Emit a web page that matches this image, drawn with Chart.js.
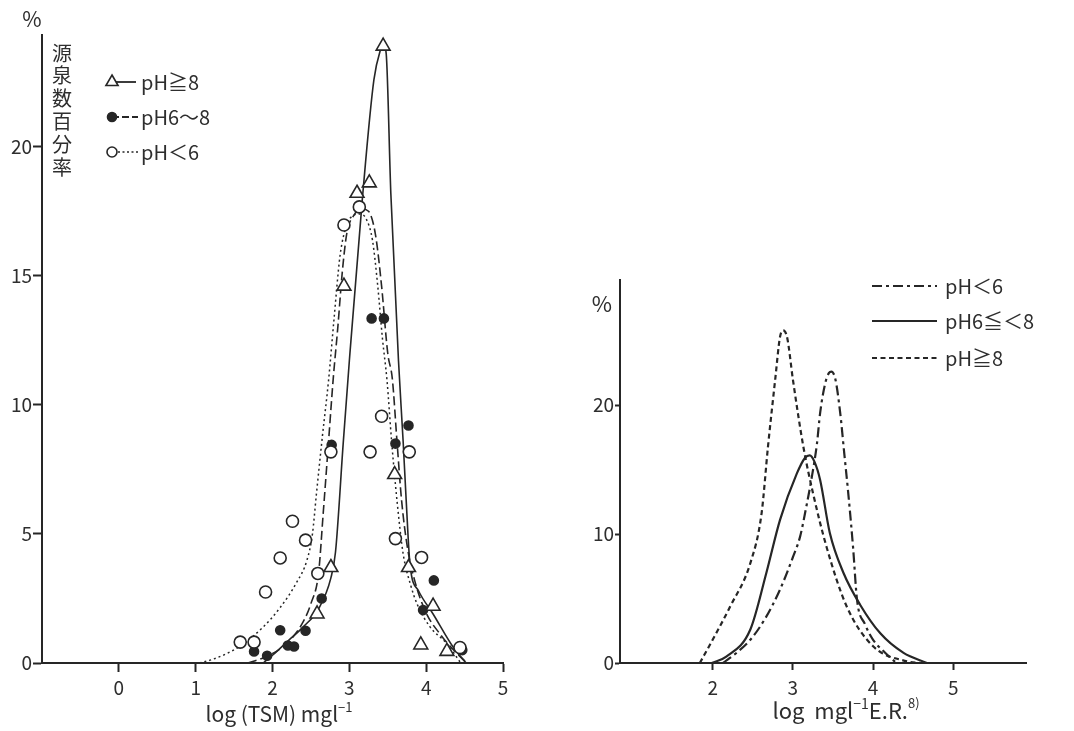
<!DOCTYPE html>
<html>
<head>
<meta charset="utf-8">
<script src="https://cdn.jsdelivr.net/npm/chart.js@4.4.0/dist/chart.umd.min.js"></script>
<style>
    html, body { margin: 0; padding: 0; background: #fff; }
    #wrap { position: relative; width: 1074px; height: 731px; overflow: hidden; background: #fff; }
    canvas { position: absolute; top: 0; }
    #leftChart { left: 0; width: 540px; height: 731px; }
    #rightChart { left: 540px; width: 534px; height: 731px; }
</style>
</head>
<body>
<div id="wrap">
    <canvas id="leftChart" width="540" height="731"></canvas>
    <canvas id="rightChart" width="534" height="731"></canvas>
</div>
<script>
/* ===============================
   データ
   =============================== */

// 左図：目盛
const leftXTicks = [0, 1, 2, 3, 4, 5];
const leftYTicks = [0, 5, 10, 15, 20];

// 左図：観測点  pH≧8（△）
const triX = [3.44, 3.10, 3.26, 2.93, 3.59, 2.76, 2.58, 3.77, 4.09, 3.93, 4.27];
const triY = [23.9, 18.2, 18.6, 14.6, 7.3, 3.7, 1.9, 3.7, 2.2, 0.7, 0.45];

// 左図：観測点  pH6～8（●）
const dotX = [3.29, 3.45, 3.77, 3.60, 2.77, 4.10, 2.64, 2.10, 2.43, 1.76, 1.93, 2.20, 2.28, 3.96, 4.47];
const dotY = [13.35, 13.35, 9.2, 8.5, 8.45, 3.2, 2.5, 1.27, 1.25, 0.45, 0.28, 0.68, 0.64, 2.05, 0.5];

// 左図：観測点  pH<6（○）
const circX = [3.13, 2.93, 3.42, 2.76, 3.27, 3.78, 2.26, 2.43, 2.10, 2.59, 1.91, 1.58, 1.76, 3.60, 3.94, 4.44];
const circY = [17.67, 16.97, 9.56, 8.18, 8.18, 8.18, 5.49, 4.76, 4.07, 3.47, 2.75, 0.81, 0.81, 4.82, 4.09, 0.6];

// 左図：あてはめ曲線  pH≧8（実線）
const fitHiX = [1.88, 2.0, 2.2, 2.4, 2.6, 2.76, 2.82, 2.92, 3.0, 3.17, 3.32, 3.41, 3.44, 3.48, 3.54, 3.64, 3.70, 3.74, 3.79, 3.9, 4.09, 4.35, 4.52];
const fitHiY = [0, 0.3, 0.85, 1.4, 2.1, 3.3, 4.3, 8.5, 11.7, 18.0, 22.6, 23.8, 24.0, 23.6, 18.2, 11.7, 8.6, 6.3, 3.8, 2.8, 1.9, 0.62, 0];

// 左図：あてはめ曲線  pH6～8（破線）
const fitMidX = [1.68, 1.9, 2.1, 2.25, 2.4, 2.5, 2.6, 2.66, 2.73, 2.79, 2.85, 2.91, 2.97, 3.05, 3.15, 3.25, 3.34, 3.42, 3.5, 3.56, 3.62, 3.68, 3.76, 3.85, 3.99, 4.2, 4.4, 4.53];
const fitMidY = [0, 0.22, 0.55, 0.95, 1.6, 2.3, 3.5, 5.8, 8.6, 11.0, 13.0, 15.2, 16.7, 17.3, 17.6, 17.5, 16.6, 14.6, 12.0, 11.0, 8.6, 6.3, 4.4, 3.2, 2.0, 1.05, 0.37, 0];

// 左図：あてはめ曲線  pH<6（点線）
const fitLowX = [1.05, 1.2, 1.4, 1.6, 1.88, 2.1, 2.31, 2.45, 2.52, 2.57, 2.65, 2.73, 2.8, 2.88, 2.97, 3.06, 3.14, 3.22, 3.3, 3.37, 3.43, 3.49, 3.55, 3.62, 3.7, 3.8, 3.88, 4.05, 4.27, 4.45];
const fitLowY = [0, 0.12, 0.36, 0.7, 1.4, 2.15, 3.1, 4.0, 5.0, 6.5, 8.8, 10.96, 13.3, 15.8, 17.0, 17.35, 17.4, 17.2, 16.4, 14.6, 12.6, 10.96, 8.6, 6.3, 4.24, 3.0, 2.3, 1.4, 0.75, 0];

// 右図：目盛
const rightXTicks = [2, 3, 4, 5];
const rightYTicks = [0, 10, 20];

// 右図：pH<6（一点鎖線）
const rLowX = [2.13, 2.3, 2.47, 2.65, 2.84, 3.0, 3.09, 3.17, 3.23, 3.3, 3.34, 3.4, 3.45, 3.48, 3.53, 3.59, 3.64, 3.69, 3.75, 3.8, 3.9, 4.0, 4.15, 4.29];
const rLowY = [0, 0.8, 1.8, 3.4, 5.7, 8.2, 9.8, 12.2, 14.2, 17.0, 19.4, 21.6, 22.5, 22.6, 22.0, 19.4, 16.3, 13.2, 9.0, 4.9, 3.0, 1.8, 0.8, 0];

// 右図：pH6≦<8（実線）
const rMidX = [1.99, 2.17, 2.47, 2.67, 2.84, 3.05, 3.15, 3.21, 3.27, 3.34, 3.46, 3.63, 3.84, 4.09, 4.38, 4.67];
const rMidY = [0, 0.5, 2.6, 7.0, 11.1, 14.7, 15.9, 16.1, 15.6, 14.2, 10.1, 7.0, 4.5, 2.3, 0.78, 0];

// 右図：pH≧8（破線）
const rHiX = [1.84, 2.0, 2.22, 2.47, 2.61, 2.69, 2.78, 2.84, 2.88, 2.93, 3.0, 3.13, 3.25, 3.42, 3.67, 4.0, 4.42, 4.6];
const rHiY = [0, 1.8, 4.4, 7.75, 11.6, 16.8, 22.0, 25.3, 25.8, 25.2, 22.0, 16.8, 13.2, 9.0, 4.4, 1.3, 0.13, 0];


/* ===============================
   共通の見た目
   =============================== */
const INK = "#262626";
const TEXT = "#2e2e2e";
const FONT = '"Noto Sans CJK JP", "Noto Sans", "DejaVu Sans", sans-serif';

const toXY = (xs, ys) => xs.map((x, i) => ({ x: x, y: ys[i] }));


/* ===============================
   文字・凡例を描くプラグイン
   =============================== */
const overlayText = {
    id: "overlayText",
    afterDraw(chart, args, opts) {
        const ctx = chart.ctx;
        ctx.save();
        ctx.fillStyle = TEXT;
        ctx.textBaseline = "middle";

        (opts.items || []).forEach(t => {
            ctx.font = `${t.size}px ${FONT}`;
            ctx.textAlign = t.align || "center";
            ctx.fillText(t.text, t.x, t.y);
        });

        // 上付き文字を含む軸名（部分ごとに描く）
        (opts.titles || []).forEach(t => {
            ctx.textAlign = "left";
            const widths = t.parts.map(p => {
                ctx.font = `${p.size}px ${FONT}`;
                return ctx.measureText(p.text).width;
            });
            const total = widths.reduce((a, b) => a + b, 0);
            let x = t.x - total / 2;
            t.parts.forEach((p, i) => {
                ctx.font = `${p.size}px ${FONT}`;
                ctx.fillText(p.text, x, t.y + (p.dy || 0));
                x += widths[i];
            });
        });

        // 縦書きの軸名
        if (opts.vertical) {
            const v = opts.vertical;
            ctx.font = `${v.size}px ${FONT}`;
            ctx.textAlign = "center";
            Array.from(v.text).forEach((ch, i) => {
                ctx.fillText(ch, v.x, v.y0 + i * v.step);
            });
        }

        // 凡例
        (opts.legend || []).forEach(row => {
            ctx.strokeStyle = INK;
            ctx.lineWidth = row.lw;
            ctx.setLineDash(row.dash);
            ctx.beginPath();
            ctx.moveTo(row.x0, row.y);
            ctx.lineTo(row.x1, row.y);
            ctx.stroke();
            ctx.setLineDash([]);

            if (row.marker) drawMarker(ctx, row.marker, row.mx, row.y);

            ctx.fillStyle = TEXT;
            ctx.font = `${row.size}px ${FONT}`;
            ctx.textAlign = "left";
            ctx.fillText(row.text, row.tx, row.y);
        });

        ctx.restore();
    }
};

function drawMarker(ctx, kind, x, y) {
    ctx.save();
    ctx.lineWidth = 1.6;
    ctx.strokeStyle = INK;
    ctx.beginPath();
    if (kind === "triangle") {
        const r = 7;
        ctx.moveTo(x, y - r);
        ctx.lineTo(x + r * 0.866, y + r * 0.5);
        ctx.lineTo(x - r * 0.866, y + r * 0.5);
        ctx.closePath();
        ctx.fillStyle = "#fff";
    } else if (kind === "dot") {
        ctx.arc(x, y, 4.5, 0, Math.PI * 2);
        ctx.fillStyle = INK;
    } else {
        ctx.arc(x, y, 5, 0, Math.PI * 2);
        ctx.fillStyle = "#fff";
    }
    ctx.fill();
    ctx.stroke();
    ctx.restore();
}


/* ===============================
   軸の設定（目盛は配列から）
   =============================== */
function axis(min, max, ticks, size, tickLength, padding) {
    return {
        type: "linear",
        min: min,
        max: max,
        afterBuildTicks: s => { s.ticks = ticks.map(v => ({ value: v })); },
        afterFit: s => {
            if (s.isHorizontal()) s.height = size;
            else s.width = size;
        },
        border: { display: true, color: INK, width: 2 },
        grid: {
            display: true,
            drawOnChartArea: false,
            drawTicks: true,
            tickLength: tickLength,
            tickColor: INK,
            tickWidth: 2
        },
        ticks: {
            color: TEXT,
            font: { family: FONT, size: 19 },
            padding: padding,
            autoSkip: false,
            maxRotation: 0
        }
    };
}

function curve(xs, ys, dash, width) {
    return {
        type: "line",
        data: toXY(xs, ys),
        borderColor: INK,
        borderWidth: width,
        borderDash: dash,
        pointRadius: 0,
        pointHoverRadius: 0,
        fill: false,
        cubicInterpolationMode: "monotone",
        order: 2
    };
}

function points(xs, ys, style, radius, fillColor) {
    return {
        type: "scatter",
        data: toXY(xs, ys),
        pointStyle: style,
        pointRadius: radius,
        pointHoverRadius: radius,
        pointBorderColor: INK,
        pointBorderWidth: 1.6,
        pointBackgroundColor: fillColor,
        order: 1
    };
}


/* ===============================
   左図：log(TSM) の分布
   =============================== */
new Chart(document.getElementById("leftChart"), {
    type: "scatter",
    data: {
        datasets: [
            curve(fitHiX, fitHiY, [], 1.6),
            curve(fitMidX, fitMidY, [9, 4], 1.6),
            curve(fitLowX, fitLowY, [2, 3], 1.5),
            points(triX, triY, "triangle", 8, "#fff"),
            points(circX, circY, "circle", 6, "#fff"),
            points(dotX, dotY, "circle", 4.5, INK)
        ]
    },
    options: {
        responsive: false,
        animation: false,
        events: [],
        layout: { padding: { top: 35, right: 37, left: 0, bottom: 0 } },
        plugins: {
            legend: { display: false },
            tooltip: { enabled: false },
            overlayText: {
                items: [
                    { text: "%", x: 32, y: 19, size: 21 }
                ],
                titles: [
                    { x: 279, y: 714, parts: [
                        { text: "log (TSM) mgl", size: 21 },
                        { text: "−1", size: 13, dy: -7 }
                    ] }
                ],
                vertical: { text: "源泉数百分率", x: 62, y0: 53, step: 22.8, size: 20 },
                legend: [
                    { marker: "triangle", mx: 112, x0: 112, x1: 136, y: 82, dash: [], lw: 1.8, text: "pH≧8", tx: 141, size: 20 },
                    { marker: "dot", mx: 112, x0: 112, x1: 138, y: 117, dash: [7, 3], lw: 1.8, text: "pH6～8", tx: 141, size: 20 },
                    { marker: "circle", mx: 112, x0: 118, x1: 139, y: 152, dash: [2, 2.5], lw: 1.6, text: "pH＜6", tx: 141, size: 20 }
                ]
            }
        },
        scales: {
            x: axis(-1, 5, leftXTicks, 68, 9, 4),
            y: axis(0, 24.33, leftYTicks, 42, 9, 1)
        }
    },
    plugins: [overlayText]
});


/* ===============================
   右図：log mgl-1 E.R. の分布
   =============================== */
new Chart(document.getElementById("rightChart"), {
    type: "scatter",
    data: {
        datasets: [
            curve(rLowX, rLowY, [10, 4, 3, 4], 2.2),
            curve(rMidX, rMidY, [], 2.2),
            curve(rHiX, rHiY, [5, 3.5], 2.2)
        ]
    },
    options: {
        responsive: false,
        animation: false,
        events: [],
        layout: { padding: { top: 280, right: 47.3, left: 0, bottom: 0 } },
        plugins: {
            legend: { display: false },
            tooltip: { enabled: false },
            overlayText: {
                items: [
                    { text: "%", x: 62, y: 304, size: 22 }
                ],
                titles: [
                    { x: 306, y: 711, parts: [
                        { text: "log  mgl", size: 22 },
                        { text: "−1", size: 14, dy: -7 },
                        { text: "E.R.", size: 22 },
                        { text: "8)", size: 13, dy: -8 }
                    ] }
                ],
                legend: [
                    { x0: 332, x1: 397, y: 286, dash: [10, 4, 3, 4], lw: 2.2, text: "pH＜6", tx: 405, size: 20 },
                    { x0: 332, x1: 397, y: 321, dash: [], lw: 2.2, text: "pH6≦＜8", tx: 405, size: 20 },
                    { x0: 332, x1: 397, y: 358, dash: [5, 3.5], lw: 2.2, text: "pH≧8", tx: 405, size: 20 }
                ]
            }
        },
        scales: {
            x: axis(0.845, 5.915, rightXTicks, 68, 7, 6),
            y: axis(0, 29.7, rightYTicks, 80, 5, 1)
        }
    },
    plugins: [overlayText]
});
</script>
</body>
</html>
